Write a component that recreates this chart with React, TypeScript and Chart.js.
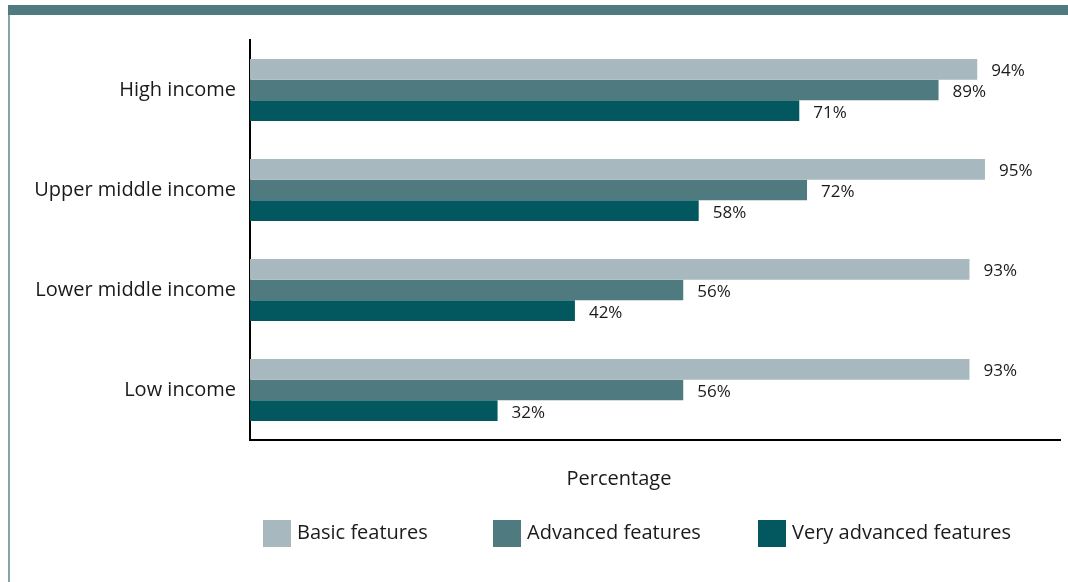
import React, { useEffect, useRef } from "react";
import { Chart, registerables } from "chart.js";

Chart.register(...registerables);

const categories = ["High income", "Upper middle income", "Lower middle income", "Low income"];
const seriesNames = ["Basic features", "Advanced features", "Very advanced features"];
const basicValues = [94, 95, 93, 93];
const advancedValues = [89, 72, 56, 56];
const veryAdvancedValues = [71, 58, 42, 32];
const xAxisTitle = "Percentage";
const xMax = 104.7;

const seriesColors = ["#A7B8BE", "#4F7B80", "#02585E"];
const legendLefts = [263, 493, 758];
const FONT = "'Open Sans', 'Noto Sans', sans-serif";
const TEXT_COLOR = "#1a1a1a";

const valueLabelPlugin = {
  id: "valueLabels",
  afterDatasetsDraw(chart: any) {
    const ctx = chart.ctx;
    ctx.save();
    ctx.font = `17px ${FONT}`;
    ctx.fillStyle = TEXT_COLOR;
    ctx.textAlign = "left";
    ctx.textBaseline = "middle";
    chart.data.datasets.forEach((ds: any, di: number) => {
      const meta = chart.getDatasetMeta(di);
      meta.data.forEach((el: any, i: number) => {
        ctx.fillText(`${ds.data[i]}%`, el.x + 14, el.y + 2);
      });
    });
    ctx.restore();
  },
};

const titleLegendPlugin = {
  id: "titleLegend",
  afterDraw(chart: any) {
    const ctx = chart.ctx;
    ctx.save();
    ctx.font = `20px ${FONT}`;
    ctx.fillStyle = TEXT_COLOR;
    ctx.textAlign = "center";
    ctx.textBaseline = "middle";
    ctx.fillText(xAxisTitle, 619, 479);
    ctx.textAlign = "left";
    chart.data.datasets.forEach((ds: any, i: number) => {
      const x = legendLefts[i];
      ctx.fillStyle = ds.backgroundColor;
      ctx.fillRect(x, 520, 28, 27);
      ctx.fillStyle = TEXT_COLOR;
      ctx.fillText(ds.label, x + 34, 533);
    });
    ctx.restore();
  },
};

export default function App() {
  const canvasRef = useRef<HTMLCanvasElement | null>(null);

  useEffect(() => {
    if (!canvasRef.current) return;
    const datasets = [basicValues, advancedValues, veryAdvancedValues].map((vals, i) => ({
      label: seriesNames[i],
      data: vals,
      backgroundColor: seriesColors[i],
      borderWidth: 0,
      categoryPercentage: 0.62,
      barPercentage: 1.0,
    }));
    const chart = new Chart(canvasRef.current, {
      type: "bar",
      data: { labels: categories, datasets },
      options: {
        indexAxis: "y",
        animation: false,
        responsive: true,
        maintainAspectRatio: false,
        layout: { padding: { top: 40, left: 10, right: 8, bottom: 122 } },
        plugins: {
          tooltip: { enabled: false },
          legend: { display: false },
        },
        scales: {
          x: {
            min: 0,
            max: xMax,
            grid: { display: false, drawTicks: false },
            ticks: { display: false },
            border: { display: true, color: "#000", width: 2 },
            afterFit(scale: any) {
              scale.height = 20;
            },
          },
          y: {
            grid: { display: false, drawTicks: false },
            border: { display: true, color: "#000", width: 2 },
            ticks: {
              padding: 14,
              color: TEXT_COLOR,
              font: { family: FONT, size: 20 },
            },
            afterFit(scale: any) {
              scale.width = 240;
            },
          },
        },
      },
      plugins: [valueLabelPlugin, titleLegendPlugin],
    });
    return () => chart.destroy();
  }, []);

  return (
    <div style={{ position: "fixed", left: 0, top: 0, width: 1068, height: 582, background: "#fff" }}>
      <div style={{ position: "absolute", left: 8, top: 5, width: 1060, height: 10, background: "#4F7B80" }} />
      <div style={{ position: "absolute", left: 8, top: 15, width: 2, height: 567, background: "#86A3A6" }} />
      <div style={{ position: "absolute", left: 0, top: 0, width: 1068, height: 582 }}>
        <canvas ref={canvasRef} />
      </div>
    </div>
  );
}
